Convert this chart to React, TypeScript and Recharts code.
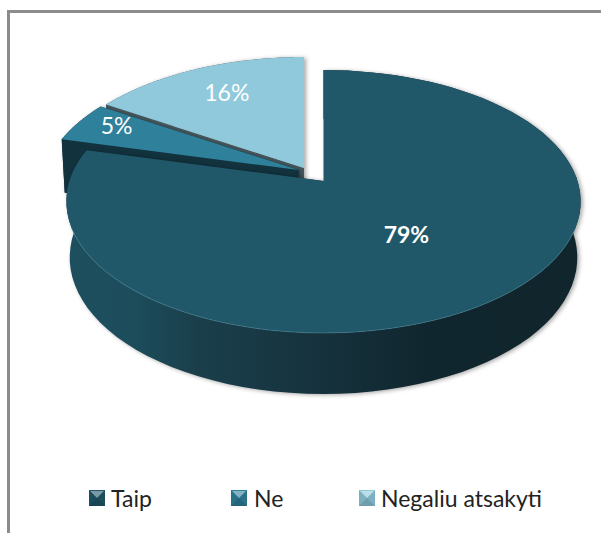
import React from "react";
import { Legend, Pie, PieChart } from "recharts";

// listed back to front, so the big slice paints last over the exploded ones
const names = ["Negaliu atsakyti", "Ne", "Taip"];
const values = [16, 5, 79];
const colors = ["#8fc9db", "#2f819b", "#20586a"];
const radialWalls = ["#46585f", "#12323e", "#12323e"];
const outerWalls = ["#46585f", "#12323e", "url(#bigWall)"];
const data = names.map((name, i) => ({ name, value: values[i], fill: colors[i] }));

// slice explosion, in pixels on the page
const offsets = [
  [-19.5, -13],
  [-25, -11],
  [0, 0],
];
const labelSpots = [
  { r: 0.69, dy: -5, weight: 400 },
  { r: 0.82, dy: -5, weight: 400 },
  { r: 0.5, dy: -1, weight: 700 },
];
const legendSpots = [
  { icon: 359, text: 381 },
  { icon: 231, text: 254 },
  { icon: 89, text: 111 },
];

const SQUASH = 0.505; // tilt of the disc
const PERSP = 0.156; // near edge looks bigger than far edge
const RAD = Math.PI / 180;

function project(cx: number, cy: number, r: number, deg: number, rr = 1) {
  const u = Math.cos(deg * RAD) * rr;
  const v = -Math.sin(deg * RAD) * rr;
  const d = 1 - v * PERSP;
  return { x: cx + (r * u) / d, y: cy + (r * SQUASH * v) / d, v };
}

function drop(p: { x: number; y: number; v: number }, cx: number) {
  return { x: cx + (p.x - cx) * 0.987, y: p.y + 55 + 6 * p.v };
}

const toPath = (pts: { x: number; y: number }[]) =>
  "M" + pts.map((p) => `${p.x.toFixed(1)},${p.y.toFixed(1)}`).join("L") + "Z";

function Slice(props: any) {
  const { cx, cy, outerRadius, startAngle, endAngle, fill, index } = props;
  const [ox, oy] = offsets[index];
  const x0 = cx + ox;
  const y0 = cy + oy;
  const arc = [];
  const steps = 90;
  for (let i = 0; i <= steps; i++) {
    arc.push(project(x0, y0, outerRadius, startAngle + ((endAngle - startAngle) * i) / steps));
  }
  const apex = { x: x0, y: y0, v: 0 };
  const lowApex = drop(apex, x0);
  const lowArc = arc.map((p) => drop(p, x0));
  const first = arc[0];
  const last = arc[steps];
  // light rim along the front edge of the big slice
  const rim = arc.filter((p) => p.v > 0.3);
  return (
    <g style={{ filter: "drop-shadow(2px 1px 2px rgba(0,0,0,0.35))" }}>
      <path d={toPath([apex, first, lowArc[0], lowApex])} fill={radialWalls[index]} />
      <path d={toPath([apex, last, lowArc[steps], lowApex])} fill={radialWalls[index]} />
      <path d={toPath([...arc, ...lowArc.slice().reverse()])} fill={outerWalls[index]} />
      <path d={toPath([apex, ...arc])} fill={fill} />
      {index === 2 && (
        <path
          d={toPath(rim).replace("Z", "")}
          fill="none"
          stroke="#4a8a9c"
          strokeOpacity={0.5}
          strokeWidth={1}
        />
      )}
    </g>
  );
}

function SliceLabel(props: any) {
  const { cx, cy, outerRadius, midAngle, index, value } = props;
  const spot = labelSpots[index];
  const [ox, oy] = offsets[index];
  const p = project(cx + ox, cy + oy, outerRadius, midAngle, spot.r);
  return (
    <text
      x={p.x}
      y={p.y + spot.dy}
      fill="#ffffff"
      textAnchor="middle"
      dominantBaseline="central"
      fontFamily="Lato"
      fontSize={23}
      fontWeight={spot.weight}
    >
      {`${value}%`}
    </text>
  );
}

function LegendIcon({ x, color }: { x: number; color: string }) {
  return (
    <svg width={16} height={16} style={{ position: "absolute", left: x, top: 490 }}>
      <rect width={16} height={16} fill={color} />
      <path d="M1,1L15,1L8,8Z" fill="#ffffff" opacity={0.4} />
      <path d="M0,16L16,16L8,8Z" fill="#000000" opacity={0.22} />
      <path d="M16,0L16,16L8,8Z" fill="#000000" opacity={0.12} />
      <path d="M0,0L0,16L8,8Z" fill="#000000" opacity={0.12} />
    </svg>
  );
}

function ChartLegend({ payload }: any) {
  return (
    <div style={{ position: "absolute", left: 0, top: 0 }}>
      {(payload || []).map((item: any) => {
        const i = names.indexOf(item.value);
        return (
          <div key={item.value}>
            <LegendIcon x={legendSpots[i].icon} color={colors[i]} />
            <span
              style={{
                position: "absolute",
                left: legendSpots[i].text,
                top: 484,
                fontFamily: "Lato",
                fontSize: 23,
                lineHeight: "28px",
                color: "#222222",
                whiteSpace: "nowrap",
              }}
            >
              {item.value}
            </span>
          </div>
        );
      })}
    </div>
  );
}

export default function App() {
  return (
    <div style={{ position: "absolute", left: 0, top: 0, width: 601, height: 533, overflow: "hidden", background: "#fff" }}>
      <div style={{ position: "absolute", left: 7, top: 10, width: 594, height: 523, borderLeft: "3px solid #8c8c8c", borderTop: "3px solid #8c8c8c" }} />
      <PieChart width={601} height={533} margin={{ top: 0, right: 0, bottom: 0, left: 0 }} style={{ position: "absolute", left: 0, top: 0 }}>
        <defs>
          <linearGradient id="bigWall" gradientUnits="userSpaceOnUse" x1={68} x2={582} y1={0} y2={0}>
            <stop offset="0" stopColor="#1d4f5f" />
            <stop offset="0.12" stopColor="#1d4d5c" />
            <stop offset="0.25" stopColor="#1a3f4b" />
            <stop offset="0.45" stopColor="#163440" />
            <stop offset="0.7" stopColor="#10262e" />
            <stop offset="1" stopColor="#10252c" />
          </linearGradient>
        </defs>
        <Pie
          data={data}
          dataKey="value"
          nameKey="name"
          cx={323.5}
          cy={181}
          outerRadius={254}
          startAngle={90}
          endAngle={450}
          stroke="none"
          shape={Slice}
          label={SliceLabel}
          labelLine={false}
          isAnimationActive={false}
        />
        <Legend content={ChartLegend} wrapperStyle={{ position: "absolute", left: 0, top: 0, width: 0, height: 0 }} />
      </PieChart>
    </div>
  );
}
